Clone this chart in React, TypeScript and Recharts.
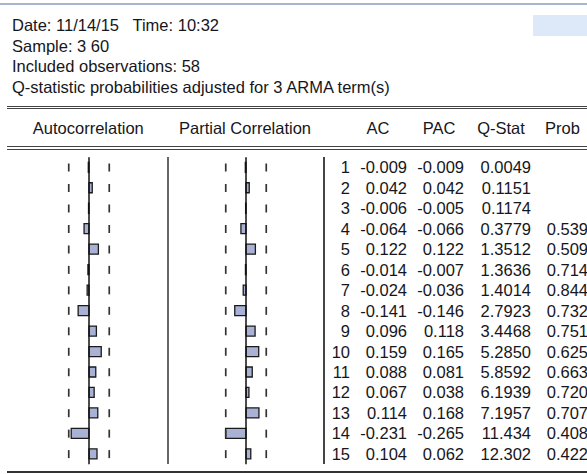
import { ComposedChart, Bar, Scatter, XAxis, YAxis, ReferenceLine } from "recharts";

const infoLines = [
  "Date: 11/14/15   Time: 10:32",
  "Sample: 3 60",
  "Included observations: 58",
  "Q-statistic probabilities adjusted for 3 ARMA term(s)",
];

const lags = [1, 2, 3, 4, 5, 6, 7, 8, 9, 10, 11, 12, 13, 14, 15];
const acValues = [
  -0.009, 0.042, -0.006, -0.064, 0.122, -0.014, -0.024, -0.141, 0.096, 0.159,
  0.088, 0.067, 0.114, -0.231, 0.104,
];
const pacValues = [
  -0.009, 0.042, -0.005, -0.066, 0.122, -0.007, -0.036, -0.146, 0.118, 0.165,
  0.081, 0.038, 0.168, -0.265, 0.062,
];
const qStats = [
  "0.0049", "0.1151", "0.1174", "0.3779", "1.3512", "1.3636", "1.4014", "2.7923",
  "3.4468", "5.2850", "5.8592", "6.1939", "7.1957", "11.434", "12.302",
];
const probs = [
  "", "", "", "0.539", "0.509", "0.714", "0.844", "0.732", "0.751", "0.625",
  "0.663", "0.720", "0.707", "0.408", "0.422",
];
// +/- 2 standard error band
const band = 0.263;

const FONT = '"Liberation Sans", Arial, sans-serif';
const ROW_TOP = 157.3;
const ROW_H = 20.47;

const Dash = (props: any) => (
  <line
    x1={props.cx}
    x2={props.cx}
    y1={props.cy - 4}
    y2={props.cy + 4}
    stroke="#333"
    strokeWidth={1.7}
  />
);

function Correlogram({ values, left }: { values: number[]; left: number }) {
  const rows = lags.map((lag, i) => ({
    lag: String(lag),
    v: values[i],
    lo: -band,
    hi: band,
  }));

  return (
    <div style={{ position: "absolute", left, top: 0 }}>
      <ComposedChart
        width={154}
        height={474}
        layout="vertical"
        data={rows}
        margin={{ top: ROW_TOP, right: 0, bottom: 474 - ROW_TOP - ROW_H * 15, left: 0 }}
      >
        <XAxis type="number" domain={[-1, 1]} hide allowDataOverflow />
        <YAxis type="category" dataKey="lag" hide />
        <ReferenceLine x={0} stroke="#111" strokeWidth={1.5} />
        <Scatter dataKey="lo" shape={Dash} isAnimationActive={false} />
        <Scatter dataKey="hi" shape={Dash} isAnimationActive={false} />
        <Bar
          dataKey="v"
          barSize={10}
          fill="#a9b2d4"
          stroke="#1a1a1a"
          strokeWidth={1.3}
          isAnimationActive={false}
        />
      </ComposedChart>
    </div>
  );
}

const doubleRule = (top: number) => (
  <div
    style={{
      position: "absolute",
      left: 7,
      right: 0,
      top,
      height: 1.5,
      borderTop: "1.5px solid #444",
      borderBottom: "1.5px solid #444",
    }}
  />
);

const cell = (text: string, y: number, x: number, align: "left" | "right" | "center", w = 80) => {
  const left = align === "right" ? x - w : align === "center" ? x - w / 2 : x;
  return (
    <div
      style={{
        position: "absolute",
        left,
        width: w,
        top: y - ROW_H / 2,
        height: ROW_H,
        lineHeight: ROW_H + "px",
        textAlign: align,
        whiteSpace: "pre",
      }}
    >
      {text}
    </div>
  );
};

export default function App() {
  const rowY = (i: number) => ROW_TOP + (i + 0.5) * ROW_H;

  return (
    <div
      style={{
        position: "absolute",
        left: 0,
        top: 0,
        width: 587,
        height: 474,
        overflow: "hidden",
        background: "#fff",
        fontFamily: FONT,
        fontSize: 16.5,
        color: "#161620",
      }}
    >
      <div style={{ position: "absolute", left: 0, right: 0, top: 3, height: 2, background: "#a6b5c9" }} />
      <div style={{ position: "absolute", left: 533, top: 15, width: 54, height: 21, background: "#dde8f8" }} />

      {infoLines.map((t, i) => cell(t, 25.5 + i * ROW_H, 12, "left", 500))}

      {doubleRule(105.5)}
      {cell("Autocorrelation", 127.8, 88.3, "center", 150)}
      {cell("Partial Correlation", 127.8, 245, "center", 150)}
      {cell("AC", 127.8, 378, "center", 50)}
      {cell("PAC", 127.8, 439, "center", 50)}
      {cell("Q-Stat", 127.8, 501, "center", 60)}
      {cell("Prob", 127.8, 562.5, "center", 50)}
      {doubleRule(146)}

      <Correlogram values={acValues} left={11.7} />
      <Correlogram values={pacValues} left={168.7} />

      <div style={{ position: "absolute", left: 167, top: 157, width: 2, height: 307, background: "#666" }} />
      <div style={{ position: "absolute", left: 323, top: 157, width: 2, height: 307, background: "#444" }} />

      {lags.map((lag, i) => (
        <div key={lag}>
          {cell(String(lag), rowY(i), 350, "right", 40)}
          {cell(acValues[i].toFixed(3), rowY(i), 407, "right", 60)}
          {cell(pacValues[i].toFixed(3), rowY(i), 464, "right", 60)}
          {cell(qStats[i], rowY(i), 531, "right", 60)}
          {cell(probs[i], rowY(i), 588, "right", 60)}
        </div>
      ))}

      <div style={{ position: "absolute", left: 7, right: 0, top: 470.5, height: 2, background: "#333" }} />
    </div>
  );
}
